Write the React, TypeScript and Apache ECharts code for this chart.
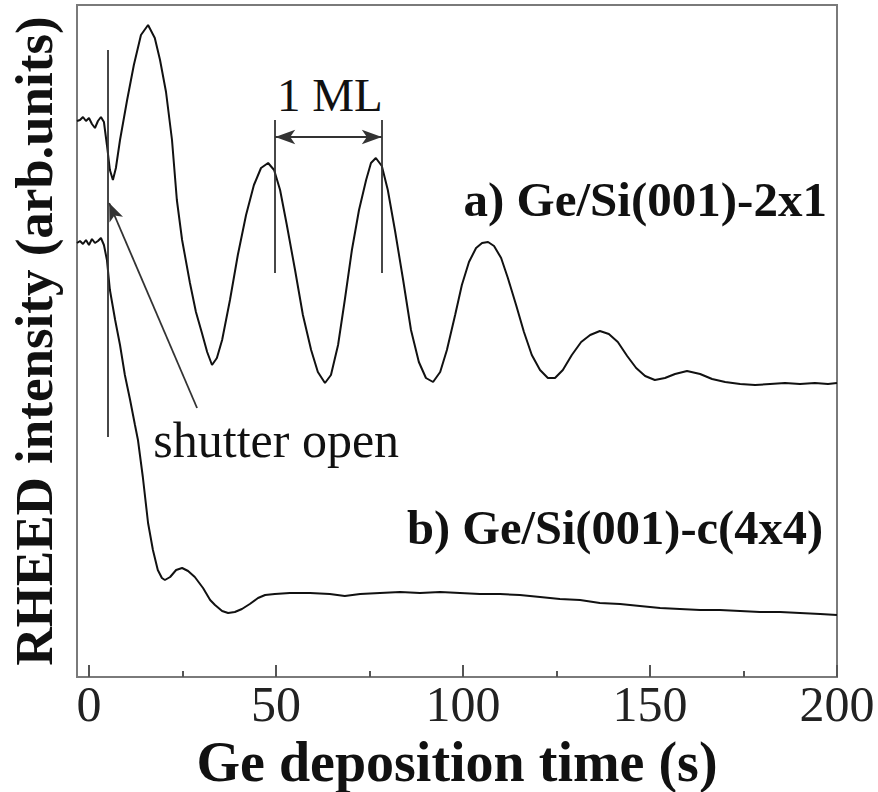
import React, { useEffect, useRef } from "react";
import * as echarts from "echarts";

// a) Ge/Si(001)-2x1 : deposition time (s) and RHEED intensity (arb. units)
const timeA = [
  -3.2, -2.4, -1.6, -0.8, 0, 0.8, 1.6, 2.4, 3.2, 4.0, 4.8, 5.6, 6.4, 7.2, 8.3, 10.2, 12.0, 13.9, 15.8, 17.6,
  19.0, 20.6, 22.2, 23.5, 24.9, 27.0, 28.6, 30.2, 31.6, 32.9, 34.2, 35.6, 37.7, 39.8, 42.0, 44.1, 46.0, 47.9,
  49.5, 51.1, 52.9, 55.1, 57.2, 59.4, 61.2, 63.1, 64.7, 66.6, 68.4, 70.3, 72.2, 74.1, 75.4, 76.7, 78.3, 79.9,
  81.8, 84.0, 86.1, 88.2, 90.1, 92.0, 93.9, 95.7, 97.9, 99.7, 101.6, 103.5, 105.1, 106.7, 108.3, 110.2, 112.0,
  114.2, 116.3, 118.4, 120.6, 122.7, 124.6, 126.7, 129.1, 131.6, 134.0, 136.6, 139.0, 141.4, 143.9, 146.3,
  148.7, 151.3, 154.0, 156.7, 159.9, 163.4, 166.6, 170.1, 174.1, 178.1, 182.1, 186.1, 190.1, 194.1, 197.6, 200,
];
const intensityA = [
  556, 557, 560, 556, 559, 553, 549, 556, 560, 555, 532, 507, 497, 509, 537, 577, 612, 642, 652, 639,
  617, 585, 537, 477, 437, 394, 365, 344, 325, 312, 319, 337, 377, 422, 462, 492, 509, 514,
  507, 487, 452, 407, 362, 327, 305, 294, 302, 332, 377, 427, 467, 497, 514, 519, 511, 487,
  447, 397, 347, 315, 299, 295, 305, 327, 362, 392, 415, 429, 434, 435, 431, 419, 399,
  372, 345, 322, 307, 299, 299, 307, 322, 335, 342, 346, 343, 335, 321, 309,
  301, 297, 299, 303, 306, 303, 298, 295, 293, 292, 293, 294, 293, 294, 293, 294,
];

// b) Ge/Si(001)-c(4x4)
const timeB = [
  -3.2, -2.4, -1.6, -0.8, 0, 0.8, 1.6, 2.4, 3.2, 4.0, 4.8, 5.6, 7.0, 8.3, 9.6, 11.0, 12.3, 13.1, 14.4, 15.8,
  17.1, 18.4, 19.5, 20.3, 21.7, 23.3, 24.9, 26.5, 28.3, 30.5, 32.4, 33.7, 35.6, 37.2, 39.0, 40.9, 43.0, 45.2,
  47.1, 49.7, 53.7, 59.1, 64.4, 68.4, 72.5, 77.8, 83.2, 88.5, 93.9, 99.2, 104.5, 109.9, 115.2, 120.6, 125.9,
  131.3, 136.6, 142.0, 147.3, 152.7, 158.0, 163.4, 168.7, 174.1, 179.4, 184.8, 190.1, 195.5, 200,
];
const intensityB = [
  434, 436, 433, 437, 432, 438, 434, 436, 439, 432, 417, 387, 357, 332, 302, 277, 252, 237, 200, 154,
  127, 107, 99, 97, 100, 107, 109, 106, 100, 89, 77, 72, 66, 64, 65, 68, 73, 79,
  82, 83, 84, 84, 83, 81, 83, 84, 85, 84, 85, 84, 83, 83, 82, 80, 78,
  77, 74, 73, 71, 69, 68, 67, 67, 66, 65, 65, 64, 63, 62,
];

const majorTicks = [0, 50, 100, 150, 200];
const minorTicks = [25, 75, 125, 175];

// annotation anchors (data coordinates)
const shutterTime = 5.1;
const shutterLineRange = [240, 627];
const shutterArrowFrom = [28.9, 269];
const shutterArrowTo = [5.4, 474];
const mlTimes = [49.8, 78.3];
const mlLineRange = [404, 557];
const mlArrowLevel = 540;

const labelTexts = ["1 ML", "shutter open", "a) Ge/Si(001)-2x1", "b) Ge/Si(001)-c(4x4)"];
const labelAnchors = [
  [64.4, 582],
  [17.2, 237],
  [197.3, 478],
  [196.3, 150],
];

const SERIF = "'Liberation Serif', 'Times New Roman', Times, serif";

export default function App() {
  const ref = useRef<HTMLDivElement>(null);

  useEffect(() => {
    if (!ref.current) return;
    const chart = echarts.init(ref.current, null, { renderer: "svg" });
    const grid = { left: 77, right: 41, top: 5, bottom: 115, outerBoundsMode: "none", containLabel: false };
    const xMin = -3.2;
    const xMax = 200;
    const yMin = 0;
    const yMax = 672;
    const lineColor = "#111";
    const annColor = "#333";

    const option: any = {
      animation: false,
      backgroundColor: "#fff",
      grid: [
        { ...grid, show: true, borderColor: "#7a7a7a", borderWidth: 2, backgroundColor: "transparent" },
        { ...grid, show: false },
      ],
      xAxis: [
        {
          type: "value",
          gridIndex: 0,
          min: xMin,
          max: xMax,
          axisLine: { show: false },
          splitLine: { show: false },
          axisTick: { show: true, inside: true, length: 12, lineStyle: { color: "#555", width: 2 }, customValues: majorTicks },
          axisLabel: {
            show: true,
            customValues: majorTicks,
            fontFamily: SERIF,
            fontSize: 50,
            color: "#222",
            margin: 2,
          },
          name: "Ge deposition time (s)",
          nameLocation: "middle",
          nameGap: 31,
          nameTextStyle: { fontFamily: SERIF, fontSize: 56, fontWeight: "bold", color: "#111", lineHeight: 56 },
        },
        {
          type: "value",
          gridIndex: 1,
          min: xMin,
          max: xMax,
          axisLine: { show: false },
          splitLine: { show: false },
          axisTick: { show: true, inside: true, length: 6, lineStyle: { color: "#555", width: 2 }, customValues: minorTicks },
          axisLabel: { show: false },
        },
      ],
      yAxis: [
        {
          type: "value",
          gridIndex: 0,
          min: yMin,
          max: yMax,
          axisLine: { show: false },
          axisTick: { show: false },
          axisLabel: { show: false },
          splitLine: { show: false },
          name: "RHEED intensity (arb.units)",
          nameLocation: "middle",
          nameGap: 17,
          nameTextStyle: { fontFamily: SERIF, fontSize: 53, fontWeight: "bold", color: "#111" },
        },
        {
          type: "value",
          gridIndex: 1,
          min: yMin,
          max: yMax,
          show: false,
        },
      ],
      series: [
        {
          name: "a) Ge/Si(001)-2x1",
          type: "line",
          showSymbol: false,
          symbol: "none",
          data: timeA.map((t, i) => [t, intensityA[i]]),
          lineStyle: { color: lineColor, width: 2 },
        },
        {
          name: "b) Ge/Si(001)-c(4x4)",
          type: "line",
          showSymbol: false,
          symbol: "none",
          data: timeB.map((t, i) => [t, intensityB[i]]),
          lineStyle: { color: lineColor, width: 2 },
        },
        {
          name: "annotations",
          type: "line",
          data: [],
          markLine: {
            silent: true,
            animation: false,
            label: { show: false },
            lineStyle: { color: annColor, width: 1.8, type: "solid" },
            data: [
              [
                { coord: [shutterTime, shutterLineRange[0]], symbol: "none" },
                { coord: [shutterTime, shutterLineRange[1]], symbol: "none" },
              ],
              [
                { coord: shutterArrowFrom, symbol: "none" },
                { coord: shutterArrowTo, symbol: "arrow", symbolSize: [11, 18] },
              ],
              [
                { coord: [mlTimes[0], mlLineRange[0]], symbol: "none" },
                { coord: [mlTimes[0], mlLineRange[1]], symbol: "none" },
              ],
              [
                { coord: [mlTimes[1], mlLineRange[0]], symbol: "none" },
                { coord: [mlTimes[1], mlLineRange[1]], symbol: "none" },
              ],
              [
                { coord: [mlTimes[0], mlArrowLevel], symbol: "arrow", symbolSize: [11, 20] },
                { coord: [mlTimes[1], mlArrowLevel], symbol: "arrow", symbolSize: [11, 20] },
              ],
            ],
          },
        },
      ],
    };
    chart.setOption(option);

    const styles = [
      { fontSize: 47, fontWeight: "normal", align: "center" },
      { fontSize: 50, fontWeight: "normal", align: "left" },
      { fontSize: 49, fontWeight: "bold", align: "right" },
      { fontSize: 48.5, fontWeight: "bold", align: "right" },
    ];
    const graphics = labelTexts.map((txt, i) => {
      const p = chart.convertToPixel({ gridIndex: 0 }, labelAnchors[i]) as number[];
      return {
        type: "text",
        x: p[0],
        y: p[1],
        silent: true,
        style: {
          text: txt,
          fontFamily: SERIF,
          fontSize: styles[i].fontSize,
          fontWeight: styles[i].fontWeight,
          fill: "#111",
          textAlign: styles[i].align,
          textVerticalAlign: "middle",
        },
      };
    });
    chart.setOption({ graphic: graphics });

    return () => chart.dispose();
  }, []);

  return (
    <div
      ref={ref}
      style={{ position: "absolute", left: 0, top: 0, width: 878, height: 792 }}
    />
  );
}
